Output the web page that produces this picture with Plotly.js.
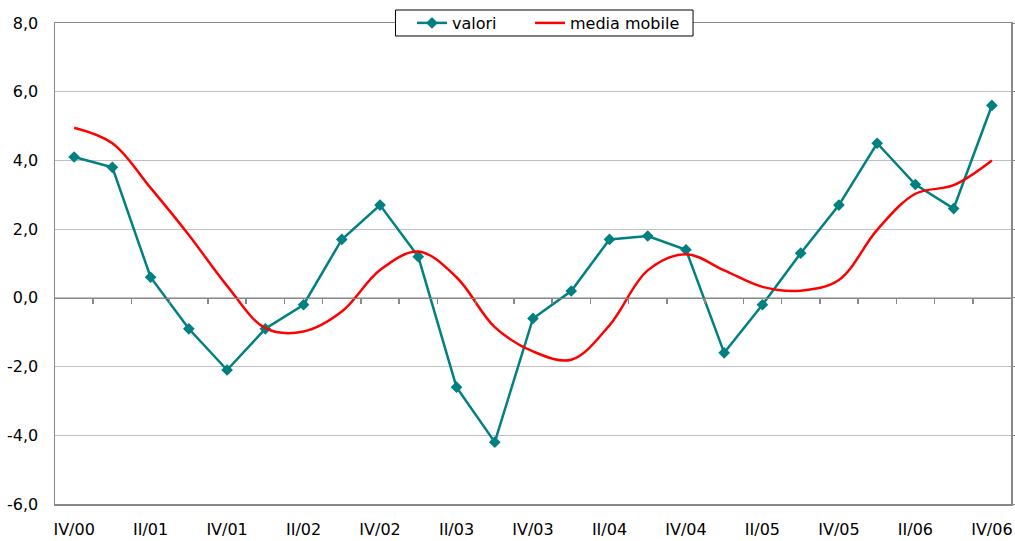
<!DOCTYPE html>
<html>
<head>
<meta charset="utf-8">
<script src="https://cdn.plot.ly/plotly-3.0.1.min.js"></script>
<style>html,body{margin:0;padding:0;background:#fff;}#chart{width:1015px;height:541px;}</style>
</head>
<body>
<div id="chart"></div>
<script>
const quarters = ["IV/00","I/01","II/01","III/01","IV/01","I/02","II/02","III/02","IV/02","I/03","II/03","III/03","IV/03","I/04","II/04","III/04","IV/04","I/05","II/05","III/05","IV/05","I/06","II/06","III/06","IV/06"];
const tickLabels = ["IV/00","II/01","IV/01","II/02","IV/02","II/03","IV/03","II/04","IV/04","II/05","IV/05","II/06","IV/06"];
const yTickVals = [-6,-4,-2,0,2,4,6,8];
const yTickText = ["-6,0","-4,0","-2,0","0,0","2,0","4,0","6,0","8,0"];
const valori = [4.1,3.8,0.6,-0.9,-2.1,-0.9,-0.2,1.7,2.7,1.2,-2.6,-4.2,-0.6,0.2,1.7,1.8,1.4,-1.6,-0.2,1.3,2.7,4.5,3.3,2.6,5.6];
const mediaMobile = [4.95,4.5,3.2,1.83,0.35,-0.88,-0.98,-0.4,0.81,1.35,0.6,-0.85,-1.56,-1.8,-0.8,0.8,1.27,0.8,0.32,0.21,0.52,1.98,3.03,3.28,4.0];
const boundaries = quarters.slice(1).map((q,i)=>i+0.5);

const font = "Tahoma, 'DejaVu Sans', sans-serif";
const legendFont = {family: font, size: 16, color: "#000"};
const traces = [
  {x: quarters, y: valori, name: "valori", type: "scatter", mode: "lines+markers", legend: "legend",
   line: {color: "#008080", width: 2.5}, marker: {symbol: "diamond", size: 9, color: "#008080"}},
  {x: quarters, y: mediaMobile, name: "media mobile", type: "scatter", mode: "lines", legend: "legend2",
   line: {color: "#ff0000", width: 2.5, shape: "spline", smoothing: 1}},
  {x: [], y: [], xaxis: "x2", yaxis: "y2", showlegend: false, hoverinfo: "skip"}
];
const legendBase = {orientation: "h", y: 1, yanchor: "middle", xanchor: "left",
                    bgcolor: "rgba(0,0,0,0)", borderwidth: 0, font: legendFont, itemwidth: 30};
const layout = {
  width: 1015, height: 541,
  margin: {l: 55, r: 4, t: 23, b: 37},
  paper_bgcolor: "#fff", plot_bgcolor: "#fff",
  separators: ",.",
  font: {family: font, size: 16, color: "#000"},
  showlegend: true,
  legend: Object.assign({}, legendBase, {x: 0.3734}),
  legend2: Object.assign({}, legendBase, {x: 0.4969}),
  shapes: [{type: "rect", xref: "paper", yref: "paper", layer: "above",
            x0: 0.3562, x1: 0.6674, y0: 0.973, y1: 1.027,
            fillcolor: "#fff", line: {color: "#000", width: 1}}],
  xaxis: {type: "category", categoryorder: "array", categoryarray: quarters,
          range: [-0.5, 24.5], tickmode: "array", tickvals: tickLabels, ticktext: tickLabels,
          ticks: "", showgrid: false, zeroline: false,
          showline: true, mirror: true, linecolor: "#888", linewidth: 1.5,
          ticklabelstandoff: 10, tickfont: {family: font, size: 16, color: "#000"}},
  yaxis: {range: [-6, 8], tickmode: "array", tickvals: yTickVals, ticktext: yTickText,
          showgrid: true, gridcolor: "#c0c0c0", gridwidth: 1, zeroline: false,
          showline: true, mirror: true, linecolor: "#888", linewidth: 1.5,
          ticks: "", ticklabelstandoff: 12, tickfont: {family: font, size: 16, color: "#000"}},
  xaxis2: {overlaying: "x", anchor: "free", position: 6/14, side: "bottom",
           type: "linear", range: [-0.5, 24.5], tickmode: "array", tickvals: boundaries,
           ticks: "outside", ticklen: 5, tickwidth: 1.5, tickcolor: "#888",
           showticklabels: false, showgrid: false, zeroline: false,
           showline: true, linecolor: "#888", linewidth: 1.5},
  yaxis2: {overlaying: "y", side: "right", anchor: "x", range: [-6, 8],
           tickmode: "array", tickvals: yTickVals,
           ticks: "outside", ticklen: 4, tickcolor: "#888", showticklabels: false,
           showgrid: false, zeroline: false, showline: false}
};
Plotly.newPlot("chart", traces, layout, {displayModeBar: false, staticPlot: true});
</script>
</body>
</html>
